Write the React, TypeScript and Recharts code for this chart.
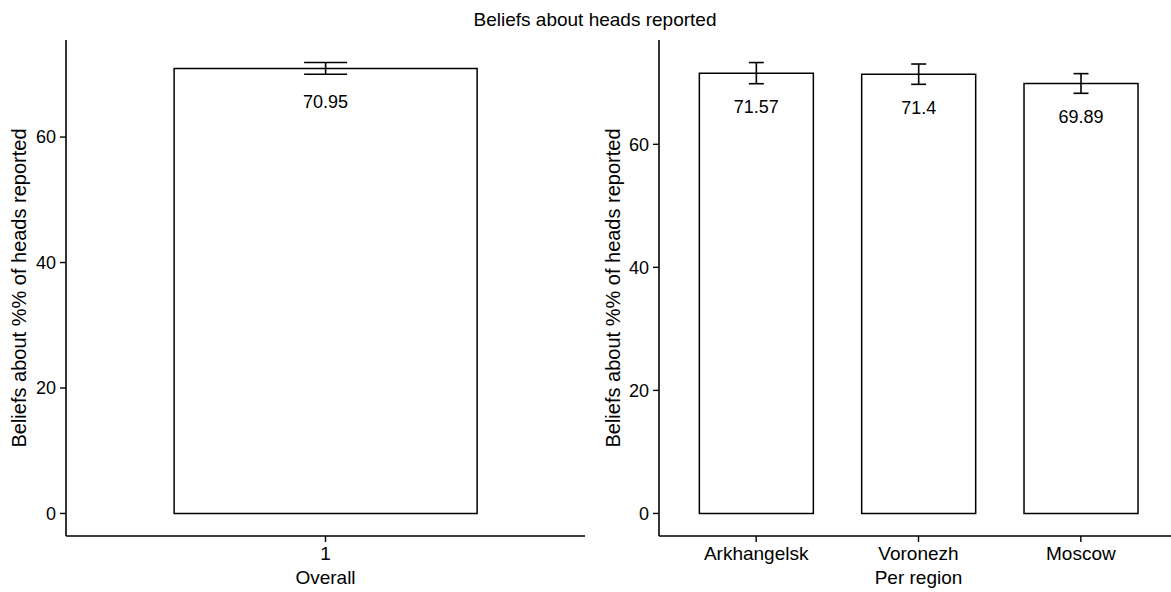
import React from "react"
import { BarChart, Bar, XAxis, YAxis, ErrorBar, LabelList, Label } from "recharts"

// mean beliefs (% of heads reported) with standard errors
const overallGroups = ["1"]
const overallMeans = [70.95]
const overallErrors = [0.93]

const regions = ["Arkhangelsk", "Voronezh", "Moscow"]
const regionMeans = [71.57, 71.4, 69.89]
const regionErrors = [1.72, 1.65, 1.6]

const yTicks = [0, 20, 40, 60]

const chartTitle = "Beliefs about heads reported"
const yTitle = "Beliefs about %% of heads reported"

const FONT = "'Liberation Sans', Arial, Helvetica, sans-serif"
const INK = "#000"
const HEIGHT = 592
const TOP = 40
const X_AXIS_H = 56

type Row = { name: string; mean: number; err: number }

const toRows = (names: string[], means: number[], errs: number[]): Row[] =>
  names.map((name, i) => ({ name, mean: means[i], err: errs[i] }))

// ggplot-style 5% expansion around [0, max(mean + err)]
const expandDomain = (rows: Row[]): [number, number] => {
  const hi = Math.max(...rows.map((r) => r.mean + r.err))
  return [-0.05 * hi, hi * 1.05]
}

const ValueLabel = (props: any) => {
  const x = Number(props.x)
  const y = Number(props.y)
  const w = Number(props.width)
  return (
    <text x={x + w / 2} y={y + 40} textAnchor="middle" fontSize={18} fill={INK} fontFamily={FONT}>
      {props.value}
    </text>
  )
}

interface PanelProps {
  rows: Row[]
  width: number
  yAxisWidth: number
  marginRight: number
  xPadding: number
  categoryGap: string
  capHalfWidth: number
  xTitle: string
  yTitleX: number
}

const Panel = ({ rows, width, yAxisWidth, marginRight, xPadding, categoryGap, capHalfWidth, xTitle, yTitleX }: PanelProps) => {
  const domain = expandDomain(rows)
  // vertical middle of the plotting area
  const midY = TOP + (HEIGHT - TOP - X_AXIS_H) / 2
  return (
    <BarChart
      width={width}
      height={HEIGHT}
      data={rows}
      margin={{ top: TOP, right: marginRight, bottom: 0, left: 0 }}
      barCategoryGap={categoryGap}
    >
      <XAxis
        dataKey="name"
        type="category"
        height={X_AXIS_H}
        padding={{ left: xPadding, right: xPadding }}
        axisLine={{ stroke: INK, strokeWidth: 1.6 }}
        tickLine={{ stroke: INK, strokeWidth: 1.4 }}
        tickSize={6}
        tickMargin={5}
        tick={{ fontSize: 19, fill: INK, fontFamily: FONT }}
        interval={0}
      >
        <Label
          content={(p: any) => {
            const vb = p.viewBox || {}
            return (
              <text x={vb.x + vb.width / 2} y={vb.y + 48} textAnchor="middle" fontSize={19} fill={INK} fontFamily={FONT}>
                {xTitle}
              </text>
            )
          }}
        />
      </XAxis>
      <YAxis
        type="number"
        width={yAxisWidth}
        domain={domain}
        ticks={yTicks}
        allowDataOverflow
        axisLine={{ stroke: INK, strokeWidth: 1.6 }}
        tickLine={{ stroke: INK, strokeWidth: 1.4 }}
        tickSize={6}
        tickMargin={4}
        tick={{ fontSize: 18, fill: INK, fontFamily: FONT }}
      >
        <Label
          content={() => (
            <text
              x={yTitleX}
              y={midY}
              transform={`rotate(-90, ${yTitleX}, ${midY})`}
              textAnchor="middle"
              fontSize={20}
              fill={INK}
              fontFamily={FONT}
            >
              {yTitle}
            </text>
          )}
        />
      </YAxis>
      <Bar dataKey="mean" fill="#fff" stroke={INK} strokeWidth={1.5} isAnimationActive={false}>
        <LabelList dataKey="mean" content={ValueLabel} />
        <ErrorBar dataKey="err" direction="y" width={capHalfWidth} stroke={INK} strokeWidth={1.6} isAnimationActive={false} />
      </Bar>
    </BarChart>
  )
}

export default function App() {
  const overall = toRows(overallGroups, overallMeans, overallErrors)
  const perRegion = toRows(regions, regionMeans, regionErrors)

  return (
    <div
      style={{
        position: "absolute",
        left: 0,
        top: 0,
        width: 1171,
        height: HEIGHT,
        overflow: "hidden",
        background: "#fff",
        fontFamily: FONT,
      }}
    >
      <svg width={1171} height={40} style={{ position: "absolute", left: 0, top: 0 }}>
        <text x={595} y={26} textAnchor="middle" fontSize={19} fill={INK} fontFamily={FONT}>
          {chartTitle}
        </text>
      </svg>
      <div style={{ position: "absolute", left: 0, top: 0 }}>
        <Panel
          rows={overall}
          width={600}
          yAxisWidth={66}
          marginRight={15}
          xPadding={0}
          categoryGap="20.83%"
          capHalfWidth={21.5}
          xTitle="Overall"
          yTitleX={26}
        />
      </div>
      <div style={{ position: "absolute", left: 600, top: 0 }}>
        <Panel
          rows={perRegion}
          width={578}
          yAxisWidth={59}
          marginRight={0}
          xPadding={16}
          categoryGap="15%"
          capHalfWidth={7.5}
          xTitle="Per region"
          yTitleX={20}
        />
      </div>
    </div>
  )
}
